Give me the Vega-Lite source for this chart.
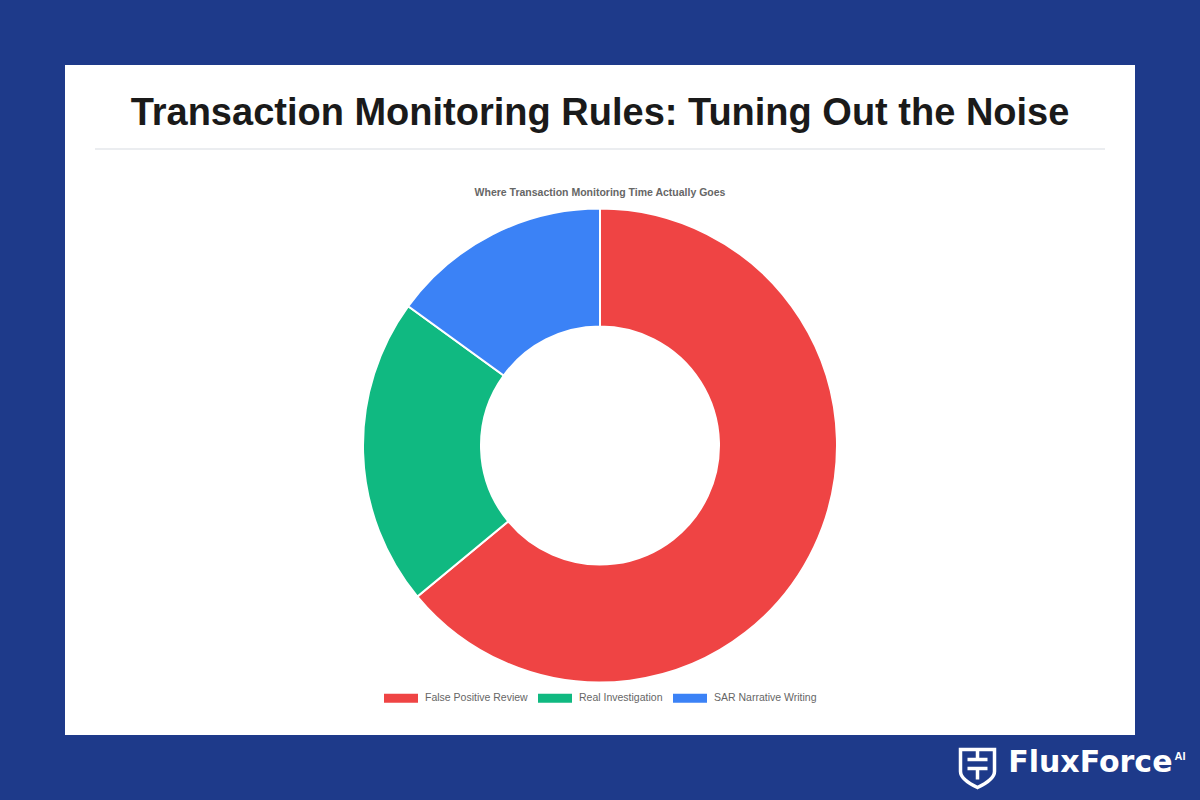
{
  "$schema": "https://vega.github.io/schema/vega-lite/v6.json",
  "background": "#1e3a8a",
  "padding": {"left": 65, "top": 65, "right": 0, "bottom": 0},
  "spacing": 0,
  "config": {
    "view": {"fill": "white", "stroke": null},
    "font": "Liberation Sans",
    "concat": {"spacing": 0}
  },
  "vconcat": [
    {
      "width": 1070,
      "height": 85,
      "data": {"values": [{"heading": "Transaction Monitoring Rules: Tuning Out the Noise"}]},
      "layer": [
        {
          "mark": {"type": "text", "font": "Liberation Sans", "fontSize": 38, "fontWeight": "bold", "color": "#1a1a1a", "baseline": "alphabetic", "align": "center", "dy": 17},
          "encoding": {"text": {"field": "heading", "type": "nominal"}}
        },
        {
          "mark": {"type": "rule", "color": "#e5e7eb", "strokeWidth": 1.5},
          "encoding": {
            "x": {"datum": 0, "type": "quantitative", "scale": {"domain": [0, 1], "padding": 30, "nice": false, "zero": false}, "axis": null},
            "x2": {"datum": 1},
            "y": {"datum": 0, "type": "quantitative", "scale": {"domain": [0, 1], "padding": 1, "nice": false, "zero": false}, "axis": null}
          }
        }
      ]
    },
    {
      "width": 1070,
      "height": 585,
      "view": {"style": "cell", "fill": "white", "stroke": null},
      "title": {"text": "Where Transaction Monitoring Time Actually Goes", "fontSize": 10.5, "fontWeight": "bold", "color": "#666666", "font": "Liberation Sans", "offset": -56, "baseline": "alphabetic", "anchor": "middle", "frame": "group"},
      "data": {"values": [
        {"category": "False Positive Review", "share": 64},
        {"category": "Real Investigation", "share": 21},
        {"category": "SAR Narrative Writing", "share": 15}
      ]},
      "mark": {"type": "arc", "outerRadius": 237, "innerRadius": 119, "stroke": "white", "strokeWidth": 2, "yOffset": 3},
      "encoding": {
        "theta": {"field": "share", "type": "quantitative", "stack": true},
        "color": {
          "field": "category",
          "type": "nominal",
          "scale": {"domain": ["False Positive Review", "Real Investigation", "SAR Narrative Writing"], "range": ["#ef4444", "#10b981", "#3b82f6"]},
          "legend": {
            "title": null,
            "orient": "none",
            "direction": "horizontal",
            "legendX": 319,
            "legendY": 616,
            "padding": 0,
            "symbolType": "M-1,-0.27H1V0.27H-1Z",
            "symbolSize": 1156,
            "symbolStrokeWidth": 0,
            "symbolOpacity": 1,
            "labelFont": "Liberation Sans",
            "labelFontSize": 10.5,
            "labelColor": "#666666",
            "labelOffset": 7,
            "columnPadding": 10
          }
        },
        "order": {"field": "category", "sort": "ascending"}
      }
    },
    {
      "width": 1135,
      "height": 65,
      "view": {"fill": null, "stroke": null},
      "data": {"values": [{"brand": "FluxForce", "sup": "AI"}]},
      "layer": [
        {
          "mark": {"type": "text", "font": "DejaVu Sans", "fontSize": 30, "fontWeight": "bold", "color": "white", "align": "right", "baseline": "alphabetic", "dx": 540, "dy": 4},
          "encoding": {"text": {"field": "brand", "type": "nominal"}}
        },
        {
          "mark": {"type": "text", "font": "Liberation Sans", "fontSize": 11, "fontWeight": "bold", "color": "white", "align": "left", "baseline": "alphabetic", "dx": 542, "dy": -8},
          "encoding": {"text": {"field": "sup", "type": "nominal"}}
        },
        {
          "mark": {"type": "point", "filled": false, "stroke": "white", "strokeWidth": 3.5, "opacity": 1, "size": 1600, "xOffset": 345, "yOffset": 0, "shape": "M-0.85,-0.9L0.85,-0.9L0.85,0.2Q0.85,0.6 0,1Q-0.85,0.6 -0.85,0.2Z M-0.5,-0.4L0.5,-0.4 M-0.5,0.05L0.5,0.05 M0,-0.9L0,-0.4 M0,0.05L0,0.6"},
          "encoding": {}
        }
      ]
    }
  ]
}
